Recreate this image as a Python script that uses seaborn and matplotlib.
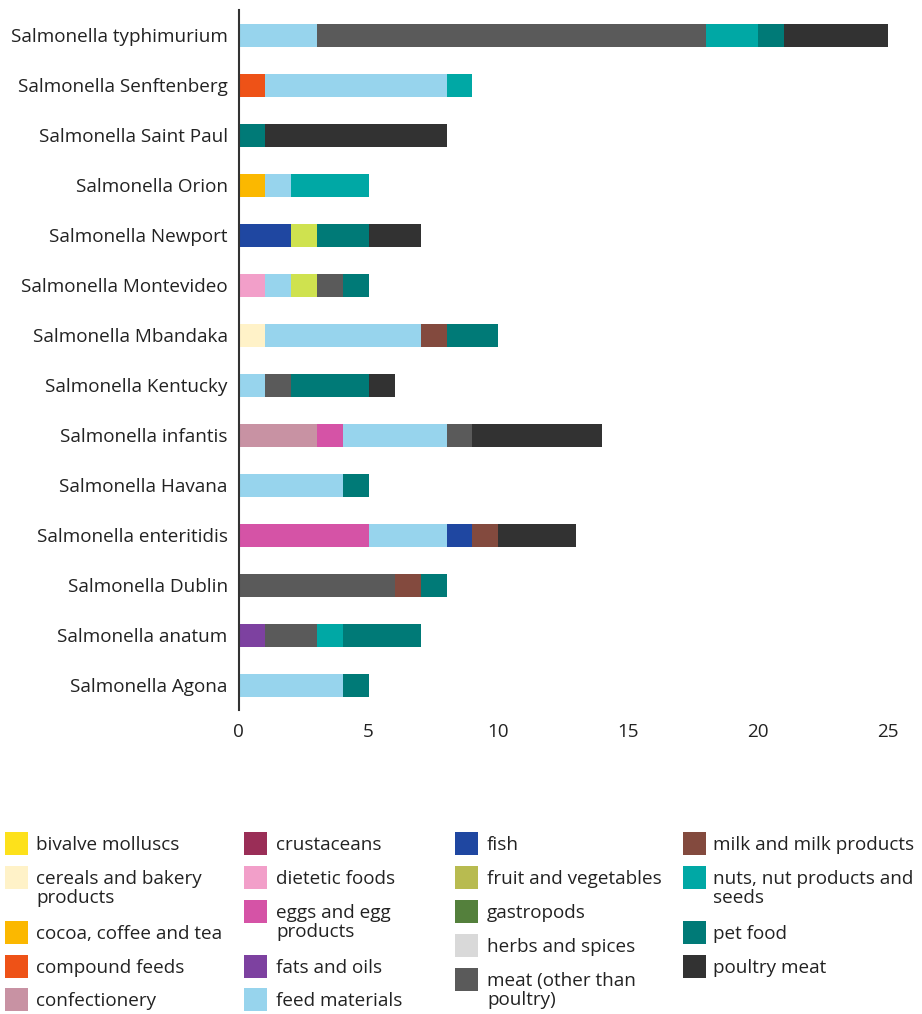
import pandas as pd
import seaborn as sns
import matplotlib.pyplot as plt
from matplotlib.patches import Rectangle

# serotypes, top to bottom
serotypes = ['Salmonella typhimurium', 'Salmonella Senftenberg', 'Salmonella Saint Paul',
             'Salmonella Orion', 'Salmonella Newport', 'Salmonella Montevideo',
             'Salmonella Mbandaka', 'Salmonella Kentucky', 'Salmonella infantis',
             'Salmonella Havana', 'Salmonella enteritidis', 'Salmonella Dublin',
             'Salmonella anatum', 'Salmonella Agona']

# food categories (legend order)
foods = ['bivalve molluscs', 'cereals and bakery products', 'cocoa, coffee and tea',
         'compound feeds', 'confectionery', 'crustaceans', 'dietetic foods',
         'eggs and egg products', 'fats and oils', 'feed materials', 'fish',
         'fruit and vegetables', 'gastropods', 'herbs and spices',
         'meat (other than poultry)', 'milk and milk products',
         'nuts, nut products and seeds', 'pet food', 'poultry meat']

colors = ['#fde11b', '#fff2c8', '#fbb800', '#ee5217', '#c892a3', '#9a2e57', '#f29fc9',
          '#d553a6', '#7d41a0', '#97d4ed', '#1f47a1', '#cfe24f', '#54803c', '#d9d9d9',
          '#5a5a5a', '#834a3e', '#00a8a5', '#007a77', '#323232']
legend_colors = list(colors)
legend_colors[11] = '#b8bb50'

# counts per serotype: (food, count)
counts = {
    'Salmonella typhimurium': [('feed materials', 3), ('meat (other than poultry)', 15),
                               ('nuts, nut products and seeds', 2), ('pet food', 1), ('poultry meat', 4)],
    'Salmonella Senftenberg': [('compound feeds', 1), ('feed materials', 7),
                               ('nuts, nut products and seeds', 1)],
    'Salmonella Saint Paul': [('pet food', 1), ('poultry meat', 7)],
    'Salmonella Orion': [('cocoa, coffee and tea', 1), ('feed materials', 1),
                         ('nuts, nut products and seeds', 3)],
    'Salmonella Newport': [('fish', 2), ('fruit and vegetables', 1), ('pet food', 2), ('poultry meat', 2)],
    'Salmonella Montevideo': [('dietetic foods', 1), ('feed materials', 1), ('fruit and vegetables', 1),
                              ('meat (other than poultry)', 1), ('pet food', 1)],
    'Salmonella Mbandaka': [('cereals and bakery products', 1), ('feed materials', 6),
                            ('milk and milk products', 1), ('pet food', 2)],
    'Salmonella Kentucky': [('feed materials', 1), ('meat (other than poultry)', 1),
                            ('pet food', 3), ('poultry meat', 1)],
    'Salmonella infantis': [('confectionery', 3), ('eggs and egg products', 1), ('feed materials', 4),
                            ('meat (other than poultry)', 1), ('poultry meat', 5)],
    'Salmonella Havana': [('feed materials', 4), ('pet food', 1)],
    'Salmonella enteritidis': [('eggs and egg products', 5), ('feed materials', 3), ('fish', 1),
                               ('milk and milk products', 1), ('poultry meat', 3)],
    'Salmonella Dublin': [('meat (other than poultry)', 6), ('milk and milk products', 1), ('pet food', 1)],
    'Salmonella anatum': [('fats and oils', 1), ('meat (other than poultry)', 2),
                          ('nuts, nut products and seeds', 1), ('pet food', 3)],
    'Salmonella Agona': [('feed materials', 4), ('pet food', 1)],
}

rows = []
for i, s in enumerate(serotypes):
    for food, n in counts[s]:
        rows.append({'pos': i, 'serotype': s, 'food': food, 'count': n})
df = pd.DataFrame(rows)

sns.set_style('white')
plt.rcParams['font.family'] = ['Open Sans', 'DejaVu Sans']
fs = 13.6

fig = plt.figure(figsize=(9.22, 10.14), dpi=100)
ax = fig.add_axes([0.259, 0.2998, 0.704, 0.6903])

present = [f for f in foods if f in set(df['food'])]
sns.histplot(data=df, y='pos', hue='food', weights='count', multiple='stack',
             discrete=True, shrink=0.46, palette=dict(zip(foods, colors)),
             hue_order=present[::-1], linewidth=0, alpha=1, legend=False, ax=ax)

ax.set_ylim(13.5, -0.5)
ax.set_xlim(0, 25)
ax.set_yticks(range(len(serotypes)))
ax.set_yticklabels(serotypes, fontsize=fs, color='#222222')
ax.set_xticks([0, 5, 10, 15, 20, 25])
ax.set_xticklabels(['0', '5', '10', '15', '20', '25'], fontsize=fs, color='#222222')
ax.tick_params(axis='y', length=0, pad=8)
ax.tick_params(axis='x', length=0, pad=9)
ax.set_xlabel('')
ax.set_ylabel('')
for side in ['top', 'right', 'bottom']:
    ax.spines[side].set_visible(False)
ax.spines['left'].set_color('#333333')
ax.spines['left'].set_linewidth(1.5)

# legend drawn by hand in four columns
W, H = 922, 1014
columns = [
    (5, 36, [(0, 843), (1, 877), (2, 932), (3, 966), (4, 999)]),
    (244, 276, [(5, 843), (6, 877), (7, 911), (8, 966), (9, 999)]),
    (455, 487, [(10, 843), (11, 877), (12, 911), (13, 945), (14, 979)]),
    (683, 713, [(15, 843), (16, 877), (17, 932), (18, 966)]),
]
wrap = {'cereals and bakery products': 'cereals and bakery\nproducts',
        'eggs and egg products': 'eggs and egg\nproducts',
        'meat (other than poultry)': 'meat (other than\npoultry)',
        'nuts, nut products and seeds': 'nuts, nut products and\nseeds'}
sw = 23
for sx, tx, items in columns:
    for idx, yc in items:
        fig.add_artist(Rectangle((sx / W, 1 - (yc + sw / 2) / H), sw / W, sw / H,
                                 transform=fig.transFigure, color=legend_colors[idx], lw=0))
        label = wrap.get(foods[idx], foods[idx])
        fig.text(tx / W, 1 - (yc - 7) / H, label, fontsize=fs, color='#222222',
                 va='top', ha='left', linespacing=1.1)

fig.savefig('out.png', dpi=100)
